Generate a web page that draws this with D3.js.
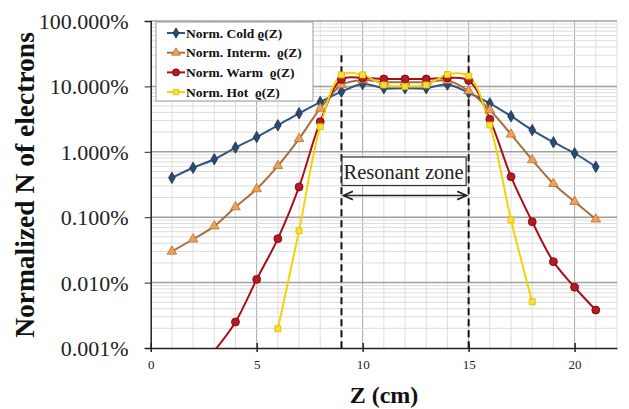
<!DOCTYPE html>
<html><head><meta charset="utf-8">
<script src="https://cdn.jsdelivr.net/npm/d3@7"></script>
<style>
body{margin:0;background:#fff;}
text{font-family:"Liberation Serif","Times New Roman",serif;}
</style></head>
<body><svg id="c" width="629" height="409"></svg>
<script>
// ---- data (values in percent) ----
const zCold = [1,2,3,4,5,6,7,8,9,10,11,12,13,14,15,16,17,18,19,20,21];
const cold = [0.40,0.57,0.77,1.16,1.68,2.54,3.88,5.77,8.3,10.9,9.4,9.4,9.4,10.7,8.0,5.5,3.5,2.15,1.40,0.95,0.59];
const zInterm = [1,2,3,4,5,6,7,8,9,10,11,12,13,14,15,16,17,18,19,20,21];
const interm = [0.030,0.046,0.073,0.143,0.27,0.61,1.58,4.6,10.5,12.5,11.6,11.6,11.6,12.3,8.5,4.35,1.85,0.75,0.325,0.173,0.093];
const zWarm = [3,4,5,6,7,8,9,10,11,12,13,14,15,16,17,18,19,20,21];
const warm = [0.0009,0.0025,0.0112,0.047,0.29,2.88,12.8,13.5,13,13,13,13.5,12.3,3.14,0.416,0.085,0.0209,0.0085,0.0038];
const zHot = [6,7,8,9,10,11,12,13,14,15,16,17,18];
const hot = [0.00197,0.062,2.42,15,15,10.5,10,10.5,15.2,14.4,2.57,0.091,0.0051];
const yTicks = [0.001,0.01,0.1,1,10,100];
const yTickLabels = ["0.001%","0.010%","0.100%","1.000%","10.000%","100.000%"];
const xTicks = [0,5,10,15,20];
const seriesNames = ["Norm. Cold \u03F1(Z)","Norm. Interm.  \u03F1(Z)","Norm. Warm  \u03F1(Z)","Norm. Hot  \u03F1(Z)"];
const resonantZone = [9,15];

const svg = d3.select("#c");
const L=150.7, R=617, T=21, B=348;
const x = d3.scaleLinear().domain([0,22]).range([L,R]);
const y = d3.scaleLog().domain([0.001,100]).range([B,T]);

// grid
const g = svg.append("g");
for(let z=1; z<=22; z++){
  g.append("line").attr("x1",x(z)).attr("x2",x(z)).attr("y1",T).attr("y2",B)
   .attr("stroke", z%5===0 ? "#a8a8a8" : "#dedede").attr("stroke-width",1);
}
for(let e=-3; e<2; e++){
  for(let m=2; m<=9; m++){
    const v = m*Math.pow(10,e);
    g.append("line").attr("x1",L).attr("x2",R).attr("y1",y(v)).attr("y2",y(v))
     .attr("stroke","#dcdcdc").attr("stroke-width",1);
  }
}
yTicks.forEach(v=>{
  g.append("line").attr("x1",L).attr("x2",R).attr("y1",y(v)).attr("y2",y(v))
   .attr("stroke", v===0.001 ? "none" : "#a0a0a0").attr("stroke-width",1.5);
});

// dashed resonant lines
resonantZone.forEach(z=>{
  svg.append("line").attr("x1",x(z)).attr("x2",x(z)).attr("y1",y(30)).attr("y2",B)
   .attr("stroke","#111").attr("stroke-width",2).attr("stroke-dasharray","7,4");
});

// axes
const yAxis = d3.axisLeft(y).tickValues(yTicks).tickFormat((d,i)=>yTickLabels[i]).tickSize(6).tickPadding(16);
const ya = svg.append("g").attr("transform",`translate(${L},0)`).call(yAxis);
ya.select(".domain").attr("stroke","#222").attr("stroke-width",1.5);
ya.selectAll(".tick line").attr("stroke","#222");
ya.selectAll("text").attr("font-size",22).attr("fill","#222").attr("dy","0.34em").style("font-family","Liberation Serif");

const xAxis = d3.axisBottom(x).tickValues(xTicks).tickSize(0).tickPadding(12);
const xa = svg.append("g").attr("transform",`translate(0,${B})`).call(xAxis);
xa.select(".domain").attr("stroke","#222").attr("stroke-width",1.5);
xa.selectAll("text").attr("font-size",13).attr("fill","#222").style("font-family","Liberation Serif");
xa.selectAll(".tick").append("line").attr("y1",-5).attr("y2",4).attr("stroke","#222").attr("stroke-width",1.5);

// clip
svg.append("clipPath").attr("id","clip").append("rect").attr("x",L).attr("y",T-10).attr("width",R-L+10).attr("height",B-T+10);

const series = [
  {z:zCold, v:cold, line:"#34557f", fill:"#2a4a72", stroke:"#1c3350", shape:"diamond"},
  {z:zInterm, v:interm, line:"#a57040", fill:"#f0a055", stroke:"#b87030", shape:"triangle"},
  {z:zWarm, v:warm, line:"#a8101c", fill:"#b81820", stroke:"#6a0a10", shape:"circle"},
  {z:zHot, v:hot, line:"#f2d400", fill:"#f8e030", stroke:"#e0b800", shape:"square"}
];
const symMap = {diamond:[d3.symbolDiamond,38], triangle:[d3.symbolTriangle,40], circle:[d3.symbolCircle,50], square:[d3.symbolSquare,36]};
const lineGen = d3.line().curve(d3.curveCatmullRom.alpha(0.5));
const plot = svg.append("g").attr("clip-path","url(#clip)");
series.forEach(s=>{
  const pts = s.z.map((z,i)=>[x(z), y(s.v[i])]);
  plot.append("path").attr("d",lineGen(pts)).attr("fill","none").attr("stroke",s.line).attr("stroke-width",2);
});
series.forEach(s=>{
  const [sym,size] = symMap[s.shape];
  s.z.forEach((z,i)=>{
    if(s.v[i] < 0.001) return;
    plot.append("path").attr("d",d3.symbol(sym,size)())
      .attr("transform",`translate(${x(z)},${y(s.v[i])})`)
      .attr("fill",s.fill).attr("stroke",s.stroke).attr("stroke-width",0.8);
  });
});

// legend
const lg = svg.append("g");
lg.append("rect").attr("x",156).attr("y",22).attr("width",157).attr("height",79)
  .attr("fill","#fff").attr("stroke","#9a9a9a").attr("stroke-width",1);
series.forEach((s,i)=>{
  const yy = 33 + i*19.7;
  lg.append("line").attr("x1",167).attr("x2",185).attr("y1",yy).attr("y2",yy).attr("stroke",s.line).attr("stroke-width",2);
  const [sym,size] = symMap[s.shape];
  lg.append("path").attr("d",d3.symbol(sym,size*0.8)()).attr("transform",`translate(176,${yy})`)
    .attr("fill",s.fill).attr("stroke",s.stroke).attr("stroke-width",0.8);
  lg.append("text").attr("x",186).attr("y",yy+4.5).attr("font-size",13.5).attr("font-weight","bold")
    .attr("fill","#111").style("white-space","pre").text(seriesNames[i]);
});

// resonant zone label
const x1 = x(resonantZone[0]), x2 = x(resonantZone[1]);
svg.append("rect").attr("x",x1+0.5).attr("y",157).attr("width",x2-x1-3).attr("height",28.5)
  .attr("fill","#fff").attr("stroke","#333").attr("stroke-width",1.2);
svg.append("text").attr("x",(x1+x2)/2-1.5).attr("y",178.5).attr("text-anchor","middle")
  .attr("font-size",20.5).attr("fill","#222").text("Resonant zone");
svg.append("defs").html('<marker id="ah" viewBox="0 0 10 10" refX="9" refY="5" markerWidth="7" markerHeight="7" orient="auto-start-reverse"><path d="M0,1 L9,5 L0,9" fill="none" stroke="#222" stroke-width="1.6"/></marker>');
svg.append("line").attr("x1",x1+2).attr("x2",x2-2).attr("y1",195.5).attr("y2",195.5)
  .attr("stroke","#222").attr("stroke-width",1.5).attr("marker-start","url(#ah)").attr("marker-end","url(#ah)");

// axis titles
svg.append("text").attr("transform","translate(34,185) rotate(-90)").attr("text-anchor","middle")
  .attr("font-size",27.5).attr("font-weight","bold").attr("fill","#111").text("Normalized N of electrons");
svg.append("text").attr("x",384).attr("y",403).attr("text-anchor","middle")
  .attr("font-size",24).attr("font-weight","bold").attr("fill","#111").text("Z (cm)");
</script></body></html>
